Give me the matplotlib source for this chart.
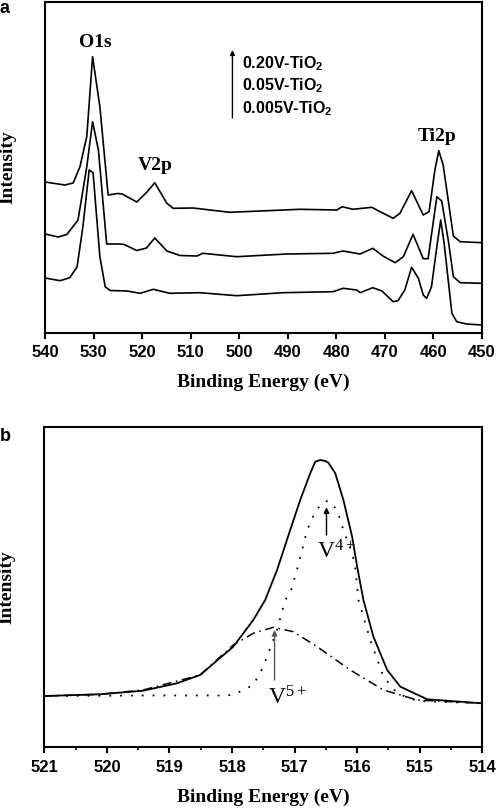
import numpy as np
import matplotlib
matplotlib.use("Agg")
import matplotlib.pyplot as plt

# --------------------- data ---------------------
# panel a: survey spectra (binding energy eV, intensity a.u.)
e_020 = [540.0, 535.9, 534.2, 532.8, 531.4, 530.2, 528.7, 527.0, 525.0, 524.1, 521.1, 519.0,
         517.4, 514.9, 513.6, 509.5, 506.0, 501.9, 495.7, 487.5, 479.9, 478.8, 476.6, 472.7,
         471.0, 468.3, 466.9, 464.5, 462.1, 460.9, 459.7, 458.9, 458.0, 455.9, 454.5, 450.0]
i_020 = [150.7, 147.7, 149.7, 166.0, 196.0, 276.0, 226.0, 137.7, 139.2, 138.7, 130.7, 140.7,
         150.0, 129.4, 124.4, 124.7, 122.7, 120.4, 121.7, 123.4, 122.7, 126.0, 123.4, 125.4,
         121.0, 114.4, 119.4, 142.0, 117.7, 121.0, 162.7, 182.0, 167.7, 96.7, 91.0, 90.0]

e_005 = [540.0, 537.3, 535.5, 533.2, 531.4, 530.2, 529.0, 527.3, 524.6, 523.7, 521.1, 519.1,
         517.4, 514.9, 512.2, 508.7, 507.5, 500.5, 490.2, 480.7, 478.6, 475.1, 472.5, 470.4,
         467.9, 466.2, 464.2, 462.1, 461.1, 459.3, 458.3, 456.9, 455.9, 454.5, 450.0]
i_005 = [98.7, 95.7, 98.2, 112.7, 165.7, 211.0, 182.7, 88.7, 88.7, 88.2, 82.2, 84.7,
         94.7, 81.7, 77.2, 76.7, 79.4, 76.0, 78.7, 79.4, 81.7, 78.7, 84.4, 76.7,
         70.0, 76.0, 98.4, 74.0, 74.0, 136.0, 131.7, 91.0, 56.0, 50.0, 49.4]

e_0005 = [540.0, 536.9, 534.9, 533.4, 532.2, 530.9, 530.1, 528.7, 527.6, 526.6, 523.1, 520.4,
          517.7, 514.3, 508.1, 500.5, 491.0, 480.7, 478.6, 475.8, 475.1, 472.5, 470.6, 468.3,
          467.3, 465.9, 464.5, 463.1, 462.1, 461.4, 460.4, 459.3, 458.5, 457.8, 456.2, 455.2,
          453.2, 450.0]
i_0005 = [54.7, 52.0, 55.0, 65.7, 105.7, 162.7, 160.0, 76.0, 46.0, 42.2, 41.7, 39.4,
          43.4, 39.4, 40.0, 37.0, 40.0, 41.0, 44.4, 42.7, 40.0, 45.0, 41.7, 31.0,
          32.0, 42.7, 65.4, 54.4, 37.7, 34.4, 46.0, 86.0, 112.7, 89.4, 19.4, 11.0,
          8.7, 7.7]

legend_labels = [r"0.20V-TiO$_{\mathbf{2}}$", r"0.05V-TiO$_{\mathbf{2}}$",
                 r"0.005V-TiO$_{\mathbf{2}}$"]

# panel b: V2p fit
e_env = [521.0, 520.11, 519.42, 518.88, 518.51, 517.98, 517.66, 517.47, 517.28, 517.07, 516.91,
         516.75, 516.67, 516.59, 516.51, 516.46, 516.35, 516.22, 516.08, 516.00, 515.90, 515.74,
         515.52, 515.31, 514.88, 514.0]
i_env = [51.3, 53.0, 56.6, 64.0, 72.3, 100.6, 127.3, 147.3, 177.3, 217.3, 247.3,
         274.0, 285.6, 287.3, 286.3, 284.6, 274.0, 247.3, 210.6, 180.6, 147.3, 110.6,
         77.3, 60.6, 48.0, 44.0]

e_v4 = [521.0, 519.31, 518.2, 517.98, 517.66, 517.50, 517.28, 517.15, 517.07, 516.94, 516.80,
        516.67, 516.55, 516.46, 516.32, 516.22, 516.08, 516.03, 515.98, 515.79, 515.58, 515.36,
        515.04, 514.0]
i_v4 = [51.3, 51.8, 51.8, 52.3, 62.3, 80.6, 117.3, 147.3, 154.0, 182.3, 217.3,
        235.6, 245.0, 246.6, 237.3, 217.3, 194.0, 179.0, 147.3, 107.3, 70.6, 54.0,
        46.3, 44.0]

e_v5 = [521.0, 520.11, 519.42, 518.51, 517.98, 517.66, 517.34, 517.02, 516.64, 516.11, 515.58,
        515.04, 514.0]
i_v5 = [51.3, 53.0, 57.3, 72.3, 102.3, 114.0, 120.0, 115.6, 100.6, 77.3, 57.3,
        47.3, 44.0]

# --------------------- style ---------------------
tick_font = {"family": "Liberation Sans", "weight": "bold", "size": 12}
label_font = {"family": "Liberation Serif", "weight": "bold", "size": 14}
plt.rcParams["mathtext.fontset"] = "custom"
plt.rcParams["mathtext.rm"] = "Liberation Serif"
plt.rcParams["mathtext.bf"] = "Liberation Sans:bold"

fig = plt.figure(figsize=(4.96, 8.08), dpi=100)
ax1 = fig.add_axes([45/496, 1 - 332.7/808, 437/496, 331.2/808])
ax2 = fig.add_axes([44.3/496, 1 - 747.3/808, 438/496, 320/808])


def style_axes(ax):
    for s in ax.spines.values():
        s.set_linewidth(1.5)
    ax.set_yticks([])
    ax.tick_params(axis="x", direction="out", length=4, width=1.5, pad=5)
    ax.tick_params(axis="x", which="minor", direction="out", length=2.5, width=1.2)
    for lab in ax.get_xticklabels():
        lab.set_fontproperties(matplotlib.font_manager.FontProperties(**tick_font))
    ax.set_ylabel("Intensity", **label_font)
    ax.set_xlabel("Binding Energy (eV)", **label_font)
    ax.yaxis.set_label_coords(-0.066, 0.5)


# --------------------- panel a ---------------------
for e, i in [(e_020, i_020), (e_005, i_005), (e_0005, i_0005)]:
    ax1.plot(e, i, color="black", lw=1.2)
ax1.set_xlim(540, 450)
ax1.set_ylim(0, 331.2)
ax1.set_xticks(np.arange(540, 449, -10))
style_axes(ax1)
ax1.xaxis.set_label_coords(0.5, -0.125)

ax1.text(529.7, 290, "O1s", ha="center", va="center", **label_font)
ax1.text(517.35, 167.7, "V2p", ha="center", va="center", **label_font)
ax1.text(459.3, 196, "Ti2p", ha="center", va="center", **label_font)
for k, lab in enumerate(legend_labels):
    ax1.text(499.4, 269.4 - 22.5 * k, lab, ha="left", va="center",
             family="Liberation Sans", weight="bold", size=11.5)
ax1.annotate("", xy=(501.4, 282.7), xytext=(501.4, 214.7),
             arrowprops=dict(arrowstyle="-|>", color="black", lw=1.0,
                             mutation_scale=7, shrinkA=0, shrinkB=0))
fig.text(0.0, 1.0, "a", ha="left", va="top", family="Liberation Sans",
         weight="bold", size=13)

# --------------------- panel b ---------------------
ax2.plot(e_env, i_env, color="black", lw=1.3)
ax2.plot(e_v4, i_v4, color="black", lw=1.3, ls=(0, (1, 5)))
ax2.plot(e_v5, i_v5, color="black", lw=1.1, ls=(0, (6, 3, 1, 3)))
ax2.set_xlim(521, 514)
ax2.set_ylim(0, 320)
ax2.set_xticks(np.arange(521, 513.9, -1))
ax2.set_xticks(np.arange(520.5, 514, -1), minor=True)
style_axes(ax2)
ax2.xaxis.set_label_coords(0.5, -0.130)

ax2.annotate("", xy=(516.49, 240), xytext=(516.49, 212.3),
             arrowprops=dict(arrowstyle="-|>", color="black", lw=1.0,
                             mutation_scale=8, shrinkA=0, shrinkB=0))
ax2.annotate("", xy=(517.32, 117.3), xytext=(517.32, 67.3),
             arrowprops=dict(arrowstyle="-|>", color="#555555", lw=1.0,
                             mutation_scale=8, shrinkA=0, shrinkB=0))
ax2.text(516.64, 189, r"$\mathrm{V^{4+}}$", ha="left", va="baseline", size=17)
ax2.text(517.43, 43, r"$\mathrm{V^{5+}}$", ha="left", va="baseline", size=17)
fig.text(0.0, 1 - 428/808, "b", ha="left", va="top", family="Liberation Sans",
         weight="bold", size=13)

fig.savefig("out.png", dpi=100)
